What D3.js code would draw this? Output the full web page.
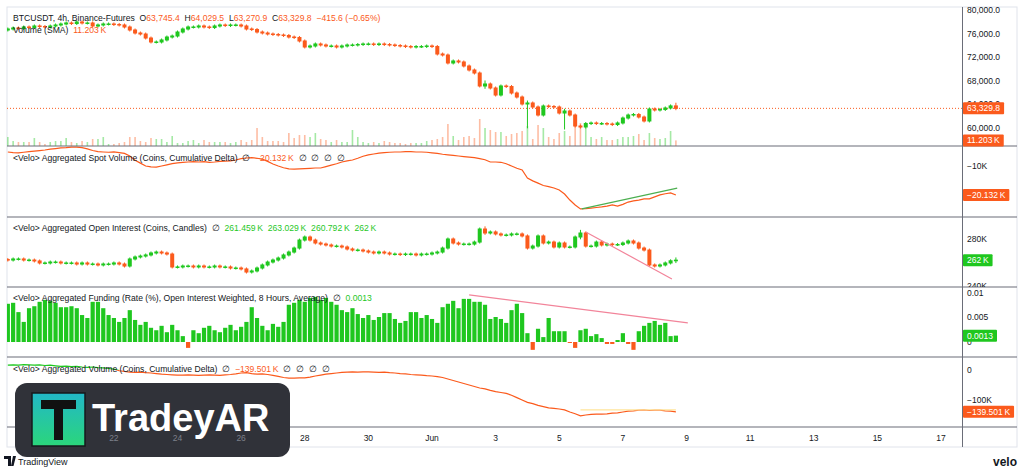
<!DOCTYPE html>
<html>
<head>
<meta charset="utf-8">
<script src="https://cdn.jsdelivr.net/npm/d3@7"></script>
<style>
  body { margin: 0; background: #fff; }
  svg { display: block; font-family: "Liberation Sans", Arial, sans-serif; }
</style>
</head>
<body>
<svg id="chart" width="1024" height="473"></svg>
<script>
// ---- data (4h bars, first bar May 18 16:00 UTC) ----
const firstBarUtc = Date.UTC(2024, 4, 18, 16);
const BAR_MS = 4 * 3600 * 1000;

const priceOpen0 = 76610;
const priceClose = [
  76780, 76950, 76860, 77120, 77030, 77290, 77200, 77120, 77290, 77460,
  77630, 77800, 77710, 77970, 77800, 77800, 77290, 77460, 77630, 77630,
  77540, 77460, 77120, 76610, 76100, 75930, 75250, 74580, 74580, 74920,
  75420, 75590, 76270, 76780, 77120, 77120, 77290, 77120, 77030, 77290,
  77460, 77370, 77460, 77460, 77290, 76780, 76690, 76270, 76100, 75930,
  75850, 75760, 75680, 75420, 75340, 74750, 73730, 73900, 74240, 74070,
  73900, 73900, 73730, 73900, 74070, 74070, 74150, 74240, 74240, 74150,
  74240, 74150, 74070, 73980, 73900, 73810, 73730, 73810, 73810, 73900,
  73810, 72540, 72370, 71020, 71360, 71190, 70510, 69830, 69320, 67120,
  67460, 66780, 65590, 67120, 67030, 65930, 65250, 64070, 64240, 63560,
  62200, 63730, 63640, 63560, 62540, 62880, 62200, 60340, 60170, 60760,
  60850, 60760, 60760, 60680, 60590, 60850, 61690, 62200, 62290, 61860,
  61190, 63220, 63050, 63140, 63390, 63745.4, 63329.8
];
// sparse wicks: bar index -> [high, low]
const priceWicks = {
  98: [64400, 60200], 105: [63000, 60000], 90: [67800, 66900], 126: [64029.5, 63270.9]
};
// volume, thousands of coins
const volume = [
  18, 10, 8, 8, 8, 16, 8, 4, 8, 10,
  10, 16, 8, 6, 10, 8, 14, 14, 18, 4,
  4, 6, 8, 18, 18, 10, 8, 16, 14, 14,
  8, 20, 6, 6, 10, 12, 6, 12, 8, 8,
  8, 8, 6, 8, 12, 8, 12, 36, 18, 10,
  10, 10, 8, 26, 16, 22, 22, 18, 26, 14,
  12, 8, 12, 8, 8, 32, 18, 8, 6, 8,
  6, 10, 8, 6, 6, 4, 6, 6, 6, 10,
  12, 14, 18, 44, 20, 12, 18, 20, 16, 54,
  36, 32, 28, 28, 20, 24, 26, 30, 40, 14,
  42, 36, 18, 14, 26, 30, 20, 62, 46, 36,
  18, 14, 18, 12, 12, 14, 18, 18, 20, 24,
  12, 26, 16, 14, 16, 30, 11.203
];
// spot cumulative delta, K
const spotCvd = [
  -5.1, -5.3, -5.4, -5.2, -5.0, -4.8, -4.6,
  -4.4, -4.1, -3.9, -3.7, -3.6, -3.4,
  -3.4, -3.6, -4.0, -4.6,
  -5.0, -5.1, -5.2, -5.1, -5.3, -5.6,
  -6.5, -8.0, -9.0, -10.0, -10.3, -10.4,
  -10.0, -9.6, -9.2, -8.9, -8.7,
  -8.6, -8.5, -8.6, -8.5, -8.7, -8.6, -8.4, -8.3, -8.2, -7.9,
  -7.4, -7.2, -7.1, -7.3, -7.6,
  -8.4, -9.3, -10.0, -10.6,
  -11.0, -11.1, -11.0, -10.9, -10.8, -10.7,
  -10.7, -10.2, -9.7, -9.2, -8.6, -8.2,
  -7.9, -7.3, -6.6,
  -6.1, -5.8, -5.5, -5.3, -5.2, -5.1, -5.1,
  -5.0, -5.0, -5.1, -5.1, -5.2, -5.4, -5.6, -5.9,
  -6.1, -6.3, -6.5, -6.7, -6.9, -7.1, -7.4, -7.8,
  -8.6, -8.6, -8.7, -9.2, -10.0, -10.8,
  -11.4, -14.2, -15.2, -16.0, -16.8, -17.2, -17.7,
  -18.4, -19.8, -21.9, -23.6, -25.0, -24.9,
  -24.7, -24.5, -24.3, -24.0, -23.6, -24.0,
  -23.4, -22.6, -22.2, -21.9, -21.5, -21.5,
  -20.8, -20.1, -19.7, -19.4, -20.132
];
// open interest, K coins
const oiOpen0 = 262.5;
const oiClose = [
  262.1, 263.0, 263.0, 262.1, 262.1, 261.3, 259.6, 259.6, 260.4, 260.4,
  259.6, 259.6, 259.6, 258.7, 259.6, 258.7, 258.7, 257.9, 258.7, 258.7,
  259.6, 258.7, 257.0, 263.0, 264.7, 265.5, 266.4, 268.1, 268.9, 268.1,
  267.2, 256.2, 256.2, 257.0, 257.0, 256.2, 257.0, 256.2, 256.2, 257.0,
  256.2, 256.2, 255.3, 255.3, 254.5, 251.9, 252.8, 255.3, 257.9, 260.4,
  262.1, 263.8, 266.4, 268.9, 272.3, 279.1, 281.7, 279.1, 276.6, 275.7,
  274.9, 274.0, 274.0, 273.2, 271.5, 270.6, 270.6, 269.8, 268.9, 268.1,
  268.9, 268.1, 267.2, 267.2, 266.8, 267.2, 267.2, 266.4, 267.2, 267.2,
  268.1, 268.9, 272.3, 280.0, 276.6, 275.7, 275.7, 275.7, 277.4, 288.5,
  285.1, 286.0, 284.3, 283.4, 283.4, 284.3, 284.3, 282.6, 272.3, 274.0,
  282.6, 276.6, 277.4, 273.2, 276.6, 273.2, 273.2, 281.7, 285.1, 274.0,
  274.0, 277.4, 274.9, 275.7, 275.3, 275.3, 276.6, 278.3, 276.6, 272.3,
  270.6, 257.9, 257.0, 257.9, 259.6, 261.459, 262.0
];
const oiWicks = { 90: [289.5, 284.8], 108: [286.5, 281.0], 126: [263.029, 260.792] };
// funding rate, %
const funding = [
  0.0078, 0.0080, 0.0061, 0.0041, 0.0069, 0.0073, 0.0082, 0.0086, 0.0084, 0.0080,
  0.0071, 0.0071, 0.0073, 0.0069, 0.0055, 0.0049, 0.0082, 0.0082, 0.0069, 0.0055,
  0.0049, 0.0041, 0.0049, 0.0065, 0.0045, 0.0035, 0.0041, 0.0029, 0.0024, 0.0033,
  0.0020, 0.0035, 0.0024, 0.0012, -0.0012, 0.0024, 0.0018, 0.0029, 0.0033, 0.0024,
  0.0020, 0.0029, 0.0035, 0.0024, 0.0031, 0.0041, 0.0071, 0.0049, 0.0033, 0.0024,
  0.0037, 0.0031, 0.0041, 0.0076, 0.0080, 0.0086, 0.0082, 0.0090, 0.0092, 0.0086,
  0.0090, 0.0082, 0.0076, 0.0065, 0.0061, 0.0069, 0.0057, 0.0049, 0.0055, 0.0045,
  0.0051, 0.0059, 0.0059, 0.0047, 0.0039, 0.0043, 0.0061, 0.0061, 0.0049, 0.0055,
  0.0047, 0.0039, 0.0071, 0.0078, 0.0084, 0.0069, 0.0088, 0.0088, 0.0082, 0.0082,
  0.0076, 0.0047, 0.0051, 0.0047, 0.0039, 0.0065, 0.0078, 0.0059, 0.0018, -0.0016,
  0.0027, 0.0010, 0.0049, 0.0022, 0.0022, 0.0022, -0.0002, -0.0012, 0.0024, 0.0027,
  0.0012, 0.0016, 0.0008, -0.0004, -0.0004, 0.0004, 0.0018, -0.0004, -0.0016, 0.0022,
  0.0033, 0.0039, 0.0043, 0.0035, 0.0039, 0.0012, 0.0013
];
// aggregated cumulative delta, K
const aggCvd = [
  16, 17, 16, 18, 17, 16, 17, 15, 16, 14, 12, 13, 11,
  12, 10, 9, 10, 8, 7, 5, 3, -2, -5,
  -7, -8, -7, -9, -10, -12, -14, -15, -16, -17,
  -17, -16, -17, -18, -17, -16, -17, -18, -16, -15, -13, -10,
  -9, -12, -14, -13, -15, -18,
  -21, -25, -27, -27, -26, -26, -24,
  -20, -17, -14, -12, -10, -8, -7, -6, -7,
  -6, -6, -7, -8, -7, -9, -10, -12, -13, -15,
  -16, -17, -19, -20, -22, -25,
  -30, -35, -40, -45, -50, -55, -60, -63,
  -68, -72, -75, -78, -84, -92,
  -100, -108, -112, -118, -122, -126, -128,
  -130, -133, -140, -146, -153, -150, -148,
  -147, -147, -146, -144, -143, -140, -137,
  -136, -134, -133, -135, -134, -134, -136, -137, -139.501
];
// hand-drawn trend lines [iso time, value]
const spotTrend = [['2024-06-05T17:00Z', -25.0], ['2024-06-08T17:00Z', -17.7]];
const oiTrend = [['2024-06-05T20:00Z', 286.0], ['2024-06-08T13:00Z', 246.0]];
const fundTrend = [['2024-06-02T04:00Z', 0.0096], ['2024-06-09T01:00Z', 0.0039]];
const aggTrend = [['2024-06-05T16:00Z', -133], ['2024-06-08T16:00Z', -133]];

const dayTicks = ['2024-05-22', '2024-05-24', '2024-05-26', '2024-05-28', '2024-05-30',
  '2024-06-01', '2024-06-03', '2024-06-05', '2024-06-07', '2024-06-09', '2024-06-11',
  '2024-06-13', '2024-06-15', '2024-06-17'];
// ticks hidden behind the last-value tags are left out
const priceTicks = [60000, 64000, 68000, 72000, 76000, 80000];
const spotTicks = [0, -10];
const oiTicks = [240, 280];
const fundTicks = [0, 0.005, 0.01];
const aggTicks = [0, -100];

// ---- look ----
const UP = '#1fc71f';
const DOWN = '#fb5a1c';
const TEXT = '#131722';
const PLOT_L = 7, PLOT_R = 962, FRAME_R = 1017;

const svg = d3.select('#chart');
const defs = svg.append('defs');

const barTime = i => new Date(firstBarUtc + i * BAR_MS);
const x = d3.scaleTime()
  .domain([new Date('2024-06-01T00:00Z'), new Date('2024-06-17T00:00Z')])
  .range([432, 941]);

const panes = {
  price: { top: 7, bottom: 146 },
  spot: { top: 146, bottom: 217 },
  oi: { top: 217, bottom: 287 },
  fund: { top: 287, bottom: 357 },
  agg: { top: 357, bottom: 427 },
};

const yPrice = d3.scaleLinear().domain([60000, 80000]).range([128, 10]);
const yVol = d3.scaleLinear().domain([0, 60]).range([146, 116]);
const ySpot = d3.scaleLinear().domain([-10, -20.132]).range([166, 195]);
const yOI = d3.scaleLinear().domain([240, 280]).range([286, 239]);
const yFund = d3.scaleLinear().domain([0, 0.01]).range([342, 293]);
const yAgg = d3.scaleLinear().domain([0, -100]).range([370, 400]);

// clip paths for each pane (plot side and axis side)
Object.entries(panes).forEach(([k, p]) => {
  defs.append('clipPath').attr('id', `clip-${k}`)
    .append('rect').attr('x', PLOT_L).attr('y', p.top)
    .attr('width', PLOT_R - PLOT_L).attr('height', p.bottom - p.top);
  defs.append('clipPath').attr('id', `aclip-${k}`)
    .append('rect').attr('x', PLOT_R).attr('y', p.top)
    .attr('width', FRAME_R - PLOT_R).attr('height', p.bottom - p.top);
});

// frame
svg.append('rect')
  .attr('x', PLOT_L).attr('y', 7).attr('width', FRAME_R - PLOT_L).attr('height', 440)
  .attr('fill', 'none').attr('stroke', '#e0e3eb');

// ---- build OHLC ----
function toCandles(open0, closes, wicks) {
  return closes.map((c, i) => {
    const o = i === 0 ? open0 : closes[i - 1];
    const w = wicks[i];
    return {
      t: barTime(i), o, c,
      h: w ? w[0] : Math.max(o, c),
      l: w ? w[1] : Math.min(o, c),
    };
  });
}
const priceBars = toCandles(priceOpen0, priceClose, priceWicks);
const oiBars = toCandles(oiOpen0, oiClose, oiWicks);

function drawCandles(g, bars, y, bodyW) {
  const c = g.selectAll('.candle').data(bars).join('g').attr('class', 'candle');
  c.append('line')
    .attr('x1', d => x(d.t)).attr('x2', d => x(d.t))
    .attr('y1', d => y(d.h) - 1.5).attr('y2', d => y(d.l) + 1.5)
    .attr('stroke', d => d.c >= d.o ? UP : DOWN).attr('stroke-width', 1);
  c.append('rect')
    .attr('x', d => x(d.t) - bodyW / 2)
    .attr('y', d => Math.min(y(d.o), y(d.c)) - 0.5)
    .attr('width', bodyW)
    .attr('height', d => Math.max(1.5, Math.abs(y(d.o) - y(d.c)) + 1))
    .attr('fill', d => d.c >= d.o ? UP : DOWN);
}

// ---- price pane ----
const gPrice = svg.append('g').attr('clip-path', 'url(#clip-price)');
gPrice.selectAll('.vol').data(volume).join('rect')
  .attr('x', (d, i) => x(barTime(i)) - 0.8)
  .attr('y', d => yVol(d))
  .attr('width', 1.6)
  .attr('height', d => yVol(0) - yVol(d))
  .attr('fill', (d, i) => priceBars[i].c >= priceBars[i].o ? UP : DOWN)
  .attr('opacity', 0.4);
const lastPrice = priceClose[priceClose.length - 1];
gPrice.append('line')
  .attr('x1', PLOT_L).attr('x2', PLOT_R)
  .attr('y1', yPrice(lastPrice)).attr('y2', yPrice(lastPrice))
  .attr('stroke', DOWN).attr('stroke-width', 1).attr('stroke-dasharray', '1,2');
drawCandles(gPrice, priceBars, yPrice, 4);

// ---- line panes ----
function drawLine(key, values, y, trend, trendColor) {
  const g = svg.append('g').attr('clip-path', `url(#clip-${key})`);
  const line = d3.line().x((d, i) => x(barTime(i))).y(d => y(d));
  const zeroY = y(0);
  const p = panes[key];
  // colour by sign: green above zero, orange below
  const cAbove = `above-${key}`, cBelow = `below-${key}`;
  defs.append('clipPath').attr('id', cAbove).append('rect')
    .attr('x', 0).attr('y', p.top).attr('width', 1024).attr('height', Math.max(0, zeroY - p.top));
  defs.append('clipPath').attr('id', cBelow).append('rect')
    .attr('x', 0).attr('y', zeroY).attr('width', 1024).attr('height', Math.max(0, p.bottom - zeroY));
  g.append('g').attr('clip-path', `url(#${cAbove})`).append('path')
    .attr('d', line(values)).attr('fill', 'none').attr('stroke', UP).attr('stroke-width', 1.2);
  g.append('g').attr('clip-path', `url(#${cBelow})`).append('path')
    .attr('d', line(values)).attr('fill', 'none').attr('stroke', DOWN).attr('stroke-width', 1.2);
  drawTrend(g, trend, y, trendColor);
}

function drawTrend(g, pts, y, color) {
  g.append('line')
    .attr('x1', x(new Date(pts[0][0]))).attr('y1', y(pts[0][1]))
    .attr('x2', x(new Date(pts[1][0]))).attr('y2', y(pts[1][1]))
    .attr('stroke', color).attr('stroke-width', 1.2);
}

drawLine('spot', spotCvd, ySpot, spotTrend, '#4caf50');

// ---- open interest pane ----
const gOI = svg.append('g').attr('clip-path', 'url(#clip-oi)');
drawCandles(gOI, oiBars, yOI, 4);
drawTrend(gOI, oiTrend, yOI, '#f2849a');

// ---- funding pane ----
const gFund = svg.append('g').attr('clip-path', 'url(#clip-fund)');
gFund.selectAll('.fund').data(funding).join('rect')
  .attr('x', (d, i) => x(barTime(i)) - 2.1)
  .attr('y', d => Math.min(yFund(d), yFund(0)))
  .attr('width', 4.2)
  .attr('height', d => Math.abs(yFund(0) - yFund(d)))
  .attr('fill', d => d >= 0 ? UP : DOWN);
drawTrend(gFund, fundTrend, yFund, '#f2849a');

// ---- aggregated cvd pane ----
drawLine('agg', aggCvd, yAgg, aggTrend, '#ffe49a');

// ---- separators and axes ----
[146, 217, 287, 357, 427].forEach(yy => {
  svg.append('line').attr('x1', PLOT_L).attr('x2', FRAME_R).attr('y1', yy).attr('y2', yy)
    .attr('stroke', '#6a6d78').attr('stroke-width', 1.2);
});
svg.append('line').attr('x1', PLOT_R + 0.5).attr('x2', PLOT_R + 0.5).attr('y1', 7).attr('y2', 447)
  .attr('stroke', '#6a6d78').attr('stroke-width', 1);

const fmtK = v => (v < 0 ? '\u2212' : '') + Math.abs(v) + 'K';
function axisTicks(key, ticks, y, fmt) {
  svg.append('g').attr('clip-path', `url(#aclip-${key})`)
    .selectAll('text').data(ticks).join('text')
    .attr('x', PLOT_R + 5).attr('y', d => y(d)).attr('dy', '0.35em')
    .attr('font-size', 8.5).attr('fill', TEXT)
    .text(fmt);
}
axisTicks('price', priceTicks, yPrice, d3.format(',.1f'));
axisTicks('spot', spotTicks, ySpot, fmtK);
axisTicks('oi', oiTicks, yOI, fmtK);
axisTicks('fund', fundTicks, yFund, d => String(d));
axisTicks('agg', aggTicks, yAgg, d => d === 0 ? '0' : fmtK(d));

function valueTag(yy, label, color) {
  const g = svg.append('g');
  const t = g.append('text')
    .attr('x', PLOT_R + 5).attr('y', yy).attr('dy', '0.35em')
    .attr('font-size', 8.5).attr('fill', '#fff').text(label);
  const w = t.node().getComputedTextLength();
  g.insert('rect', 'text')
    .attr('x', PLOT_R + 1).attr('y', yy - 6).attr('width', w + 8).attr('height', 12)
    .attr('rx', 1).attr('fill', color);
}
valueTag(yPrice(lastPrice), d3.format(',.1f')(lastPrice), DOWN);
valueTag(yVol(volume[volume.length - 1]), '11.203\u2009K', DOWN);
valueTag(ySpot(spotCvd[spotCvd.length - 1]), '\u221220.132\u2009K', DOWN);
valueTag(yOI(oiClose[oiClose.length - 1]), '262\u2009K', UP);
valueTag(yFund(funding[funding.length - 1]), '0.0013', UP);
valueTag(yAgg(aggCvd[aggCvd.length - 1]), '\u2212139.501\u2009K', DOWN);

// ---- legends ----
function legend(yy, parts) {
  const t = svg.append('text').attr('x', 13).attr('y', yy).attr('font-size', 8.6)
    .attr('fill', TEXT).attr('xml:space', 'preserve');
  parts.forEach(([s, c]) => t.append('tspan').attr('fill', c || TEXT).text(s));
}
legend(21, [['BTCUSDT, 4h, Binance-Futures  O'], ['63,745.4', DOWN], ['  H'], ['64,029.5', DOWN],
  ['  L'], ['63,270.9', DOWN], ['  C'], ['63,329.8', DOWN], ['  \u2212415.6 (\u22120.65%)', DOWN]]);
legend(33, [['Volume (SMA)  '], ['11.203\u2009K', DOWN]]);
legend(161, [['<Velo> Aggregated Spot Volume (Coins, Cumulative Delta)  \u2205  '],
  ['\u221220.132\u2009K', DOWN], ['  \u2205  \u2205  \u2205  \u2205']]);
legend(231, [['<Velo> Aggregated Open Interest (Coins, Candles)  \u2205  '],
  ['261.459\u2009K  263.029\u2009K  260.792\u2009K  262\u2009K', UP]]);
legend(301, [['<Velo> Aggregated Funding (Rate (%), Open Interest Weighted, 8 Hours, Average)  \u2205  '],
  ['0.0013', UP]]);
legend(372, [['<Velo> Aggregated Volume (Coins, Cumulative Delta)  \u2205  '],
  ['\u2212139.501\u2009K', DOWN], ['  \u2205  \u2205  \u2205  \u2205']]);

// ---- watermark ----
const grad = defs.append('linearGradient').attr('id', 'wmGrad')
  .attr('x1', 0).attr('y1', 0).attr('x2', 0).attr('y2', 1);
grad.append('stop').attr('offset', '0%').attr('stop-color', '#22b8c8');
grad.append('stop').attr('offset', '100%').attr('stop-color', '#2bd67b');
const wm = svg.append('g');
wm.append('rect').attr('x', 15).attr('y', 383).attr('width', 275).attr('height', 74)
  .attr('rx', 12).attr('fill', '#303239');
wm.append('rect').attr('x', 32).attr('y', 393).attr('width', 53).attr('height', 53)
  .attr('fill', 'url(#wmGrad)').attr('stroke', '#16181c').attr('stroke-width', 1.5);
wm.append('path')
  .attr('d', 'M41,400 H76 V409 H63 V440 H54 V409 H41 Z')
  .attr('fill', '#111');
wm.append('text').attr('x', 92).attr('y', 431).attr('font-size', 38)
  .attr('font-weight', 'bold').attr('fill', '#fff').text('TradeyAR');

// time axis (drawn after the watermark; labels under it show through faintly)
svg.append('g').selectAll('text').data(dayTicks).join('text')
  .attr('x', d => x(new Date(d + 'T00:00Z'))).attr('y', 438).attr('dy', '0.35em')
  .attr('text-anchor', 'middle').attr('font-size', 8.5)
  .attr('fill', d => x(new Date(d + 'T00:00Z')) < 290 ? '#7d808a' : TEXT)
  .text(d => {
    const dt = new Date(d + 'T00:00Z');
    return dt.getUTCDate() === 1 ? 'Jun' : String(dt.getUTCDate());
  });

// ---- footer ----
svg.append('path').attr('d', 'M4,456 H11 V466 H8 V459 H4 Z M13,456 H16 L13.5,466 H11 Z')
  .attr('fill', TEXT);
svg.append('text').attr('x', 18).attr('y', 465).attr('font-size', 9).attr('fill', TEXT)
  .text('TradingView');
svg.append('text').attr('x', 1017).attr('y', 466).attr('text-anchor', 'end')
  .attr('font-size', 12).attr('font-weight', 'bold').attr('fill', TEXT).text('velo');
</script>
</body>
</html>
